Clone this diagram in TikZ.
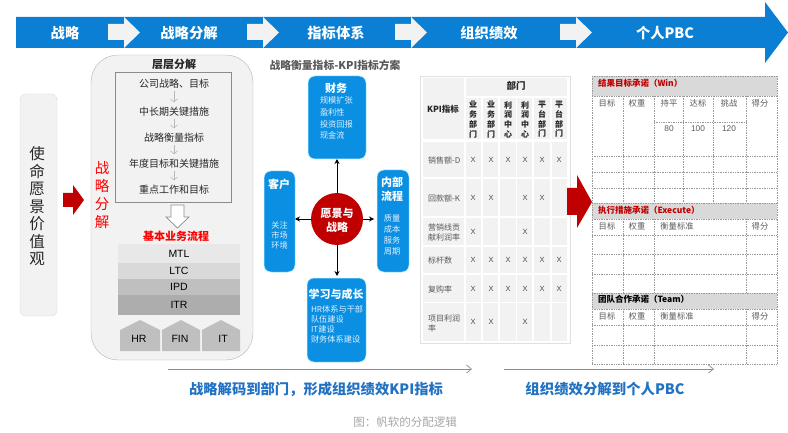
\documentclass[tikz,border=0pt]{standalone}
\usepackage{fontspec}
\setmainfont{Noto Sans CJK SC}
\newfontfamily\latfont{Liberation Sans}
\usepackage{xcolor}
\usetikzlibrary{positioning,calc,arrows.meta}
\definecolor{bannerblue}{HTML}{0A7FD4}
\definecolor{boxblue}{HTML}{0B8FE3}
\definecolor{darkred}{HTML}{C00000}
\definecolor{panelgray}{HTML}{F2F2F2}
\definecolor{titleblue}{HTML}{2272C3}
\newcommand{\fsz}[2]{\fontsize{#1}{#2}\selectfont}
\tikzset{
	txt/.style={inner sep=0pt,outer sep=0pt,align=center},
	bannertxt/.style={txt,text=white,font=\fsz{14.3}{16}\bfseries},
	whitearrow/.style={fill=panelgray},
	redarrow/.style={fill=darkred},
	steptxt/.style={txt,font=\fsz{10}{12},text=black!85},
	stepflow/.style={draw=black!28,line width=0.6pt,-{Straight Barb[length=3pt,width=7pt]},shorten <=2pt,shorten >=5pt},
	stackbox/.style={txt,minimum width=122pt,font=\latfont\fsz{10.5}{12}},
	penta/.style={fill=black!25},
	pentatxt/.style={txt,font=\latfont\fsz{10.5}{12}},
	bluebox/.style={rounded corners=7pt,fill=boxblue,draw=blue!20!cyan!30,line width=0.5pt,inner sep=0pt,outer sep=0pt},
	bluehead/.style={txt,text=white,font=\fsz{11}{14}\bfseries},
	bluetxt/.style={txt,text=white!88!boxblue,font=\fsz{8.2}{10}},
	spoke/.style={draw=black,line width=0.8pt,-{Stealth[length=5pt,width=5pt]}},
	kpicell/.style={fill=panelgray},
	kpihead/.style={txt,text=black!85,font=\fsz{8}{9.7}\bfseries},
	kpirow/.style={txt,align=left,anchor=west,text=black!65,font=\fsz{8}{10}},
	xmark/.style={txt,text=black!70,font=\latfont\fsz{7.5}{9}},
	pbchead/.style={fill=black!15},
	pbcline/.style={draw=black!40,densely dotted,line width=0.7pt},
	pbctitle/.style={txt,anchor=west,font=\fsz{8.5}{10}\bfseries},
	pbctxt/.style={txt,text=black!65,font=\fsz{8.3}{10}},
	flowline/.style={draw=black!45,line width=0.7pt,-{Straight Barb[length=5pt,width=8pt]}},
	bottomtxt/.style={txt,text=titleblue,font=\fsz{14.3}{16}\bfseries},
}
\begin{document}
\begin{tikzpicture}[x=1pt,y=-1pt]
	\useasboundingbox (0,0) rectangle (788,433);
	
	\fill[bannerblue] (16,17) -- (765,17) -- (765,2) -- (788,32.5) -- (765,63) -- (765,48) -- (16,48) -- cycle;
	\foreach \xa in {108,247,395,560}
		\fill[whitearrow] (\xa,24) -- (\xa+16,24) -- (\xa+16,17) -- (\xa+32,32.5) -- (\xa+16,48) -- (\xa+16,40) -- (\xa,40) -- cycle;
	\node[bannertxt] (b1) at (65,33) {战略};
	\node[bannertxt] (b2) at (189,33) {战略分解};
	\node[bannertxt] (b3) at (336,33) {指标体系};
	\node[bannertxt] (b4) at (489,33) {组织绩效};
	\node[bannertxt] (b5) at (665,33) {个人PBC};
	
	\node[txt,minimum width=37pt,minimum height=222pt,rounded corners=6pt,fill=panelgray,draw=black!15] (vision) at (38.5,205) {};
	\node[txt,font=\fsz{15.5}{17.5},text=black!85] (visiontxt) at (37,206.5) {使\\命\\愿\\景\\价\\值\\观};
	\fill[redarrow] (63,193) -- (73,193) -- (73,185) -- (84,200) -- (73,215) -- (73,207) -- (63,207) -- cycle;
	
	\node[txt,minimum width=162pt,minimum height=305pt,rounded corners=27pt,fill=panelgray,draw=black!30] (panel) at (172,207.5) {};
	\node[txt,font=\fsz{11}{13}\bfseries,text=black!85] (ptitle) at (174,64) {层层分解};
	\node[txt,minimum width=116pt,minimum height=130pt,draw=black!45,line width=0.8pt] (inner) at (173,137) {};
	\node[steptxt] (s1) at (174,84) {公司战略、目标};
	\node[steptxt] (s2) at (174,112) {中长期关键措施};
	\node[steptxt] (s3) at (174,138) {战略衡量指标};
	\node[steptxt] (s4) at (174,164) {年度目标和关键措施};
	\node[steptxt] (s5) at (174,190) {重点工作和目标};
	\draw[stepflow] (s1) -- (s2);
	\draw[stepflow] (s2) -- (s3);
	\draw[stepflow] (s3) -- (s4);
	\draw[stepflow] (s4) -- (s5);
	\node[txt,text=red,font=\fsz{14.5}{18.2}] (redv) at (102,195) {战\\略\\分\\解};
	
	\draw[black!45,fill=white,line width=0.7pt] (171,205) -- (184,205) -- (184,217) -- (189,217) -- (177.5,228) -- (166,217) -- (171,217) -- cycle;
	\node[txt,text=red,font=\fsz{11}{13}\bfseries] (flowtitle) at (176,236) {基本业务流程};
	
	\node[stackbox,fill=black!9,minimum height=19pt] (mtl) at (179,253.5) {MTL};
	\node[stackbox,fill=black!15,minimum height=16pt,below=0pt of mtl] (ltc) {LTC};
	\node[stackbox,fill=black!25,minimum height=16pt,below=0pt of ltc] (ipd) {IPD};
	\node[stackbox,fill=black!32,minimum height=20pt,below=0pt of ipd] (itr) {ITR};
	
	\foreach \xa/\xb in {120/160,162/200,202/240}
		\fill[penta] (\xa,351) -- (\xa,330) -- ({(\xa+\xb)/2},320) -- (\xb,330) -- (\xb,351) -- cycle;
	\node[pentatxt] (hr) at (139,339) {HR};
	\node[pentatxt] (fin) at (180,339) {FIN};
	\node[pentatxt] (it) at (223,339) {IT};
	
	\node[txt,text=black!65,font=\fsz{10.8}{13}\bfseries] (kpiplan) at (335,65) {战略衡量指标-KPI指标方案};
	
	\node[bluebox,minimum width=58pt,minimum height=83pt] (finance) at (337,117.5) {};
	\node[bluebox,minimum width=31pt,minimum height=101pt] (customer) at (279.5,221.5) {};
	\node[bluebox,minimum width=32pt,minimum height=102pt] (process) at (393,221) {};
	\node[bluebox,minimum width=59pt,minimum height=84pt] (growth) at (336.5,320) {};
	\node[circle,fill=darkred,minimum size=52pt,inner sep=0pt,outer sep=0pt] (vc) at (337,219) {};
	\node[txt,text=white,font=\fsz{11}{14}\bfseries] (vctxt) at (337,220) {愿景与\\战略};
	
	\node[bluehead] (financet) at (336,88) {财务};
	\node[bluetxt,align=left,anchor=north west,font=\fsz{8.2}{11.7}] (financel) at (320,97) {规模扩张\\盈利性\\投资回报\\现金流};
	\node[bluehead] (customert) at (279,184) {客户};
	\node[bluetxt] (customerl) at (279.5,235) {关注\\市场\\环境};
	\node[bluehead] (processt) at (392,189) {内部\\流程};
	\node[bluetxt,font=\fsz{8.2}{10.8}] (processl) at (392,235) {质量\\成本\\服务\\周期};
	\node[bluehead] (growtht) at (336,294) {学习与成长};
	\node[bluetxt,align=left,anchor=north west] (growthl) at (311,306) {HR体系与干部\\队伍建设\\IT建设\\财务体系建设};
	
	\draw[spoke] (vc) -- (vc |- finance.south);
	\draw[spoke] (vc) -- (vc -| customer.east);
	\draw[spoke,shorten >=3pt] (vc) -- (vc -| process.west);
	\draw[spoke,shorten >=2pt] (vc) -- (vc |- growth.north);
	
	\node[txt,minimum width=150pt,minimum height=267pt,draw=black!12] (kpitable) at (495,209.5) {};
	\fill[kpicell] (423,78) rectangle (464,139);
	\fill[kpicell] (466,78) rectangle (567,96);
	\foreach \xa/\xb in {466/481,483/498,500/516,517/532,534/550,552/567} {
		\fill[kpicell] (\xa,98) rectangle (\xb,139);
		\foreach \ya/\yb in {142/177,179/216,218/245,247/273,275/302,303/341}
			\fill[kpicell] (\xa,\ya) rectangle (\xb,\yb);
	}
	\foreach \ya/\yb in {142/177,179/216,218/245,247/273,275/302,303/341}
		\fill[kpicell] (423,\ya) rectangle (464,\yb);
	\node[kpihead,font=\fsz{9.5}{11}\bfseries] (dept) at (516,86) {部门};
	\node[kpihead,font=\fsz{8.5}{10}\bfseries] (kpih) at (443,109) {KPI指标};
	\node[kpihead] (c1) at (473,119.5) {业\\务\\部\\门};
	\node[kpihead] (c2) at (491,119.5) {业\\务\\部\\门};
	\node[kpihead] (c3) at (508,119.5) {利\\润\\中\\心};
	\node[kpihead] (c4) at (525,119.5) {利\\润\\中\\心};
	\node[kpihead] (c5) at (542,119.5) {平\\台\\部\\门};
	\node[kpihead] (c6) at (559,119.5) {平\\台\\部\\门};
	\node[kpirow] (r1) at (428,160) {销售额-D};
	\node[kpirow] (r2) at (428,198) {回款额-K};
	\node[kpirow] (r3) at (428,232) {营销线贡\\献利润率};
	\node[kpirow] (r4) at (428,260) {标杆数};
	\node[kpirow] (r5) at (428,289) {复购率};
	\node[kpirow] (r6) at (428,323) {项目利润\\率};
	\foreach \ry/\cs in {160/{473,491,508,525,542,559},198/{473,491,525,542},232/{473,525},260/{473,491,508,525,542,559},289/{473,491,508,525,542,559},322/{473,491,525}}
		\foreach \cx in \cs
			\node[xmark] (x\ry\cx) at (\cx,\ry) {X};
	
	\fill[redarrow] (567,188) -- (577,188) -- (577,175) -- (592,202) -- (577,228) -- (577,215) -- (567,215) -- cycle;
	
	\fill[pbchead] (592,76) rectangle (777,96);
	\fill[pbchead] (592,203) rectangle (777,219);
	\fill[pbchead] (592,293) rectangle (777,309);
	\foreach \ya in {76,96,156,172,188,203,219,235,254,274,293,309,325,345,364}
		\draw[pbcline] (592,\ya) -- (777,\ya);
	\draw[pbcline] (654,122) -- (746,122);
	\foreach \xa in {592,777}
		\draw[pbcline] (\xa,76) -- (\xa,364);
	\foreach \xa in {623,654,746} {
		\draw[pbcline] (\xa,96) -- (\xa,203);
		\draw[pbcline] (\xa,219) -- (\xa,293);
		\draw[pbcline] (\xa,309) -- (\xa,364);
	}
	\foreach \xa in {683,713}
		\draw[pbcline] (\xa,96) -- (\xa,203);
	\node[pbctitle,text=darkred] (win) at (598,83) {结果目标承诺（Win）};
	\node[pbctitle,text=darkred] (exec) at (598,210) {执行措施承诺（Execute）};
	\node[pbctitle,text=black] (team) at (598,299) {团队合作承诺（Team）};
	\foreach \tx/\lab in {607/目标,637/权重,669/持平,698/达标,729/挑战,760/得分}
		\node[pbctxt] (w\tx) at (\tx,103) {\lab};
	\foreach \tx/\lab in {669/80,698/100,729/120}
		\node[pbctxt,font=\latfont\fsz{8.3}{10}] (v\tx) at (\tx,128.5) {\lab};
	\foreach \tx/\lab in {607/目标,637/权重,677/衡量标准,760/得分} {
		\node[pbctxt] (e\tx) at (\tx,226) {\lab};
		\node[pbctxt] (t\tx) at (\tx,316) {\lab};
	}
	
	\coordinate (l1a) at (168,369);
	\coordinate (l1b) at (472,369);
	\coordinate (l2a) at (504,369);
	\coordinate (l2b) at (714,369);
	\draw[flowline] (l1a) -- (l1b);
	\draw[flowline] (l2a) -- (l2b);
	\node[bottomtxt] (dec) at (316,389) {战略解码到部门，形成组织绩效KPI指标};
	\node[bottomtxt,font=\fsz{14.4}{16}\bfseries] (pbc) at (605,389) {组织绩效分解到个人PBC};
	\node[txt,text=black!35,font=\fsz{11.5}{14}] (cap) at (405,422) {图：帆软的分配逻辑};
\end{tikzpicture}
\end{document}
